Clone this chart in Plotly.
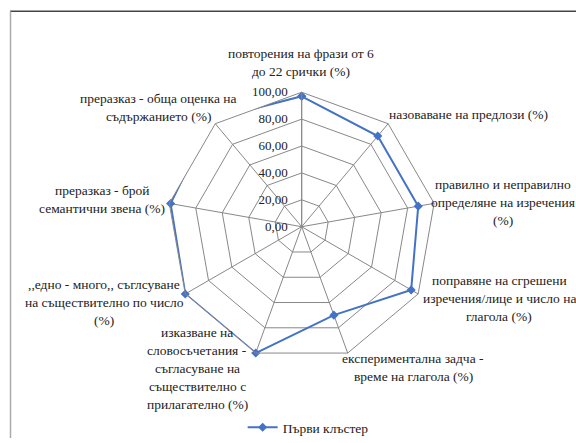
import plotly.graph_objects as go

categories = [
    "повторения на фрази от 6<br>до 22 срички (%)",
    "назоваване на предлози (%)",
    "правилно и неправилно<br>определяне на изречения<br>(%)",
    "поправяне на сгрешени<br>изречения/лице и число на<br>глагола (%)",
    "експериментална задча -<br>време на глагола (%)",
    "изказване на<br>словосъчетания -<br>съгласуване на<br>съществително с<br>прилагателно (%)",
    ",,едно - много,, съглсуване<br>на съществително по число<br>(%)",
    "преразказ - брой<br>семантични звена (%)",
    "преразказ - обща оценка на<br>съдържанието (%)",
]
values = [97, 88, 88, 94, 70, 100, 100, 99, 104]
series_name = "Първи клъстер"
radial_ticks = [0, 20, 40, 60, 80, 100]

# label placement (pixels: x, first-line y, x anchor)
label_pos = [
    (301, 54, "center"),
    (387, 116, "left"),
    (503, 187, "center"),
    (499, 284, "center"),
    (413, 363, "center"),
    (197, 336, "center"),
    (104, 288, "center"),
    (102, 193, "center"),
    (158, 100, "center"),
]
LINE_STEP = 18.2

W, H = 576, 443
cx, cy, R = 301.7, 229.3, 136
FONT = "Liberation Sans Narrow"
FS = 13.5
grid = "#888888"
blue = "#4472C4"

fig = go.Figure()
fig.add_trace(go.Scatterpolar(
    r=values + values[:1],
    theta=categories + categories[:1],
    mode="lines+markers",
    name=series_name,
    line=dict(color=blue, width=2),
    marker=dict(symbol="diamond", size=7, color=blue),
    cliponaxis=False,
))

annotations = []
for text, (x, y, anchor) in zip(categories, label_pos):
    for i, line in enumerate(text.split("<br>")):
        annotations.append(dict(
            x=x / W, y=1 - (y + i * LINE_STEP) / H, xref="paper", yref="paper",
            text=line, showarrow=False, xanchor=anchor, yanchor="middle",
            font=dict(family=FONT, size=FS, color="#222222"),
        ))

fig.update_layout(
    width=W, height=H,
    margin=dict(l=0, r=0, t=0, b=0),
    paper_bgcolor="white",
    separators=", ",
    font=dict(family=FONT, size=FS, color="#222222"),
    polar=dict(
        domain=dict(x=[(cx - R) / W, (cx + R) / W],
                    y=[(H - cy - R) / H, (H - cy + R) / H]),
        bgcolor="white",
        gridshape="linear",
        angularaxis=dict(rotation=90, direction="clockwise",
                         linecolor=grid, linewidth=1, gridcolor=grid,
                         showline=True, ticks="", showticklabels=False),
        radialaxis=dict(range=[0, 100], tickvals=radial_ticks, tickformat=".2f",
                        angle=90, tickangle=90, side="counterclockwise",
                        showline=True, linecolor=grid, gridcolor=grid,
                        ticks="outside", ticklen=9, tickcolor="rgba(0,0,0,0)",
                        tickfont=dict(family=FONT, size=13)),
    ),
    showlegend=True,
    legend=dict(orientation="h", x=0.535, xanchor="center", y=-0.012, yanchor="bottom",
                font=dict(family=FONT, size=FS), itemwidth=30),
    annotations=annotations,
    shapes=[
        dict(type="line", xref="paper", yref="paper", x0=10 / W, x1=1, y0=1 - 11.5 / H, y1=1 - 11.5 / H,
             line=dict(color="#444444", width=1.5)),
        dict(type="line", xref="paper", yref="paper", x0=10.5 / W, x1=10.5 / W, y0=0, y1=1 - 11.5 / H,
             line=dict(color="#aaaaaa", width=1.5)),
    ],
)

fig.write_html("out.html", config={"displayModeBar": False},
               post_script="document.body.style.margin='0';")
